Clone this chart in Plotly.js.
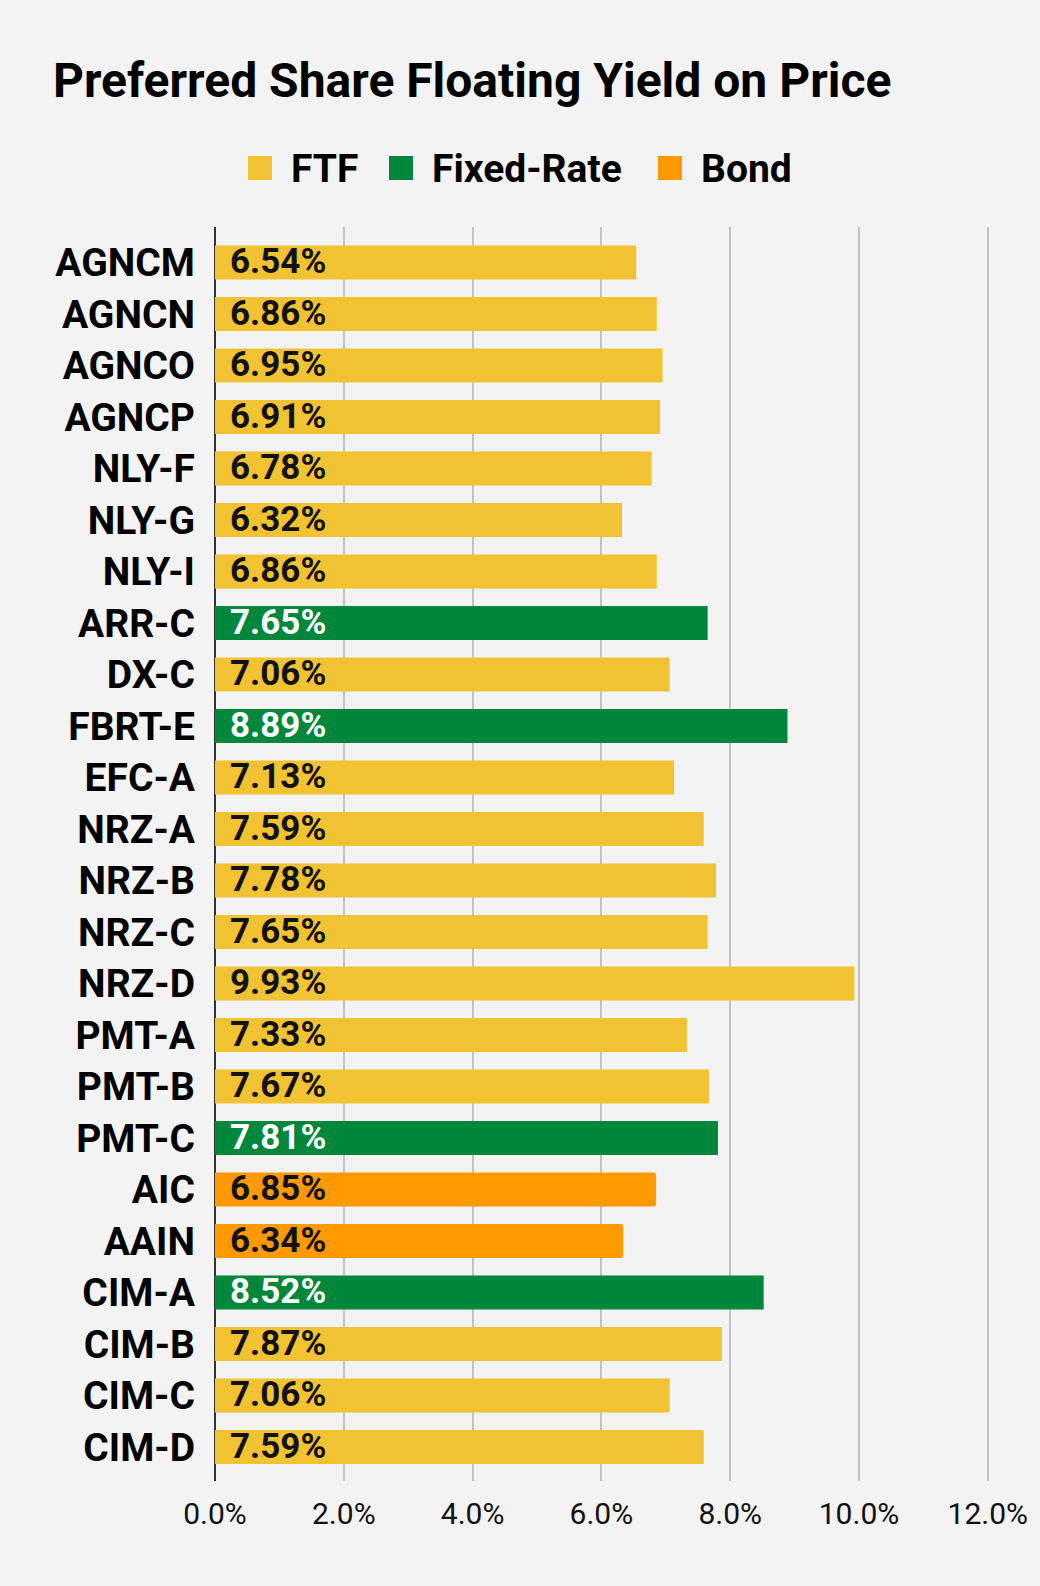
<!DOCTYPE html>
<html>
<head>
<meta charset="utf-8">
<script src="https://cdn.plot.ly/plotly-3.0.1.min.js"></script>
<style>
  html, body { margin: 0; padding: 0; background: #f3f3f3; }
  #plot { width: 1040px; height: 1586px; }
</style>
</head>
<body>
<div id="plot"></div>
<script>
const tickers = ["AGNCM", "AGNCN", "AGNCO", "AGNCP", "NLY-F", "NLY-G", "NLY-I", "ARR-C",
    "DX-C", "FBRT-E", "EFC-A", "NRZ-A", "NRZ-B", "NRZ-C", "NRZ-D", "PMT-A", "PMT-B",
    "PMT-C", "AIC", "AAIN", "CIM-A", "CIM-B", "CIM-C", "CIM-D"];
const yields = [6.54, 6.86, 6.95, 6.91, 6.78, 6.32, 6.86, 7.65,
    7.06, 8.89, 7.13, 7.59, 7.78, 7.65, 9.93, 7.33, 7.67,
    7.81, 6.85, 6.34, 8.52, 7.87, 7.06, 7.59];
const kinds = ["FTF", "FTF", "FTF", "FTF", "FTF", "FTF", "FTF", "Fixed-Rate",
    "FTF", "Fixed-Rate", "FTF", "FTF", "FTF", "FTF", "FTF", "FTF", "FTF",
    "Fixed-Rate", "Bond", "Bond", "Fixed-Rate", "FTF", "FTF", "FTF"];

const kindNames = ["FTF", "Fixed-Rate", "Bond"];
const kindColors = ["#f1c232", "#00873c", "#ff9900"];
const labelColors = ["#111111", "#ffffff", "#111111"];
const xTicks = [0, 2, 4, 6, 8, 10, 12];

// page geometry (pixels)
const W = 1040, H = 1586;
const M = {l: 215, r: 49, t: 227, b: 105};
const plotW = W - M.l - M.r;
const plotH = H - M.t - M.b;
const px2paperX = px => (px - M.l) / plotW;
const px2paperY = py => 1 - (py - M.t) / plotH;

const traces = kindNames.map((k, i) => {
    const idx = tickers.map((_, j) => j).filter(j => kinds[j] === k);
    return {
        type: "bar",
        orientation: "h",
        name: k,
        x: idx.map(j => yields[j]),
        y: idx.map(j => tickers[j]),
        marker: {color: kindColors[i], cornerradius: k === "Bond" ? 3 : 0},
        hoverinfo: "skip",
        showlegend: false
    };
});

// value labels at the start of each bar
const valueLabels = tickers.map((t, j) => ({
    x: 0,
    y: t,
    xref: "x",
    yref: "y",
    xanchor: "left",
    yanchor: "middle",
    xshift: 13,
    yshift: 1,
    text: yields[j].toFixed(2) + "%",
    showarrow: false,
    font: {family: "Roboto", size: 35, weight: 700,
        color: labelColors[kindNames.indexOf(kinds[j])]}
}));

// legend drawn by hand so the swatches can be large
const legendSwatchX = [248, 389, 658];
const legendShapes = kindNames.map((k, i) => ({
    type: "rect",
    xref: "paper", yref: "paper",
    x0: px2paperX(legendSwatchX[i]), x1: px2paperX(legendSwatchX[i] + 24),
    y0: px2paperY(156), y1: px2paperY(180),
    fillcolor: kindColors[i],
    line: {width: 0}
}));
const legendText = kindNames.map((k, i) => ({
    xref: "paper", yref: "paper",
    x: px2paperX(legendSwatchX[i] + 41),
    y: px2paperY(169),
    xanchor: "left", yanchor: "middle",
    text: k,
    showarrow: false,
    font: {family: "Roboto", size: 39, weight: 700, color: "#000"}
}));

Plotly.newPlot("plot", traces, {
    width: W,
    height: H,
    paper_bgcolor: "#f3f3f3",
    plot_bgcolor: "#f3f3f3",
    margin: M,
    barmode: "overlay",
    bargap: 0.34,
    title: {
        text: "Preferred Share Floating Yield on Price",
        xref: "container", yref: "container",
        x: 53 / W, xanchor: "left",
        y: 1 - 80 / H, yanchor: "middle",
        font: {family: "Roboto", size: 48, weight: 700, color: "#000"}
    },
    xaxis: {
        range: [0, 12.05],
        tickvals: xTicks,
        ticktext: xTicks.map(v => v.toFixed(1) + "%"),
        showgrid: true,
        gridcolor: "#c2c2c2",
        gridwidth: 2,
        zeroline: true,
        zerolinecolor: "#333333",
        zerolinewidth: 2,
        showline: false,
        ticks: "",
        ticklabelstandoff: 12,
        tickfont: {family: "Roboto", size: 30, color: "#111"},
        fixedrange: true
    },
    yaxis: {
        type: "category",
        categoryorder: "array",
        categoryarray: tickers,
        range: [23.66, -0.69],
        showgrid: false,
        zeroline: false,
        showline: false,
        ticks: "",
        ticklabelstandoff: 19,
        tickfont: {family: "Roboto", size: 39, weight: 700, color: "#000"},
        fixedrange: true
    },
    shapes: legendShapes,
    annotations: valueLabels.concat(legendText),
    showlegend: false
}, {displayModeBar: false, staticPlot: true});
</script>
</body>
</html>
